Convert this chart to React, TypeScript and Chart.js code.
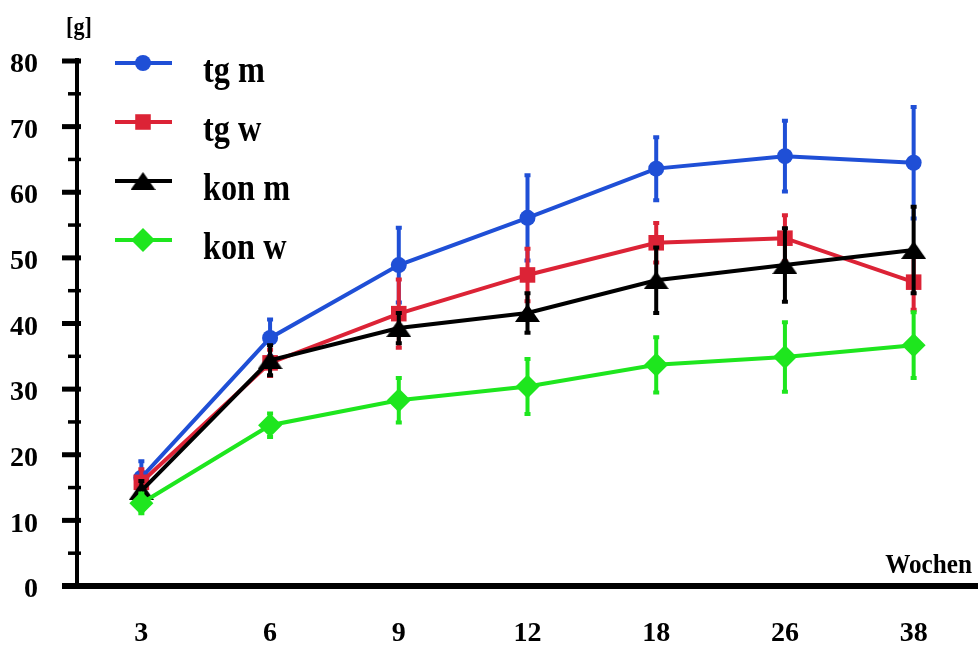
import React, { useEffect, useRef } from 'react';
import { Chart, registerables } from 'chart.js';

Chart.register(...registerables);

const weeks = ['3', '6', '9', '12', '18', '26', '38'];

const tgM = [16.5, 37.8, 48.9, 56.1, 63.6, 65.5, 64.5];
const tgMErr = [2.5, 2.8, 5.7, 6.5, 4.8, 5.4, 8.5];

const tgW = [15.8, 34.0, 41.5, 47.4, 52.3, 53.0, 46.3];
const tgWErr = [2.0, 2.0, 5.2, 4.0, 3.0, 3.5, 4.2];

const konM = [14.5, 34.4, 39.3, 41.6, 46.6, 48.9, 51.2];
const konMErr = [1.5, 2.3, 2.3, 3.0, 5.0, 5.6, 6.6];

const konW = [12.6, 24.5, 28.3, 30.4, 33.7, 34.9, 36.7];
const konWErr = [1.5, 1.8, 3.4, 4.2, 4.2, 5.3, 5.0];

const seriesNames = ['tg m', 'tg w', 'kon m', 'kon w'];
const seriesValues = [tgM, tgW, konM, konW];
const seriesErrors = [tgMErr, tgWErr, konMErr, konWErr];
const colors = ['#1f4fd6', '#dc2336', '#000000', '#1ee61e'];
const pointStyles = ['circle', 'rect', 'flatTriangle', 'rectRot'];
const pointRadii = [8, 11, 10.5, 12];

const yMin = 0;
const yMax = 80;
const yStep = 5;
const yUnit = '[g]';
const xTitle = 'Wochen';

const FONT = "'Liberation Serif', 'Times New Roman', serif";

function makeTriangle(color: string, w: number, h: number) {
  const c = document.createElement('canvas');
  c.width = w;
  c.height = h;
  const g = c.getContext('2d');
  if (g) {
    g.fillStyle = color;
    g.beginPath();
    g.moveTo(w / 2, 0);
    g.lineTo(w, h);
    g.lineTo(0, h);
    g.closePath();
    g.fill();
  }
  return c;
}

function drawMarker(ctx: CanvasRenderingContext2D, style: any, x: number, y: number, r: number) {
  if (typeof style !== 'string') {
    ctx.drawImage(style, x - style.width / 2, y - style.height / 2);
    return;
  }
  ctx.beginPath();
  if (style === 'circle') {
    ctx.arc(x, y, r, 0, Math.PI * 2);
  } else if (style === 'rect') {
    const s = Math.SQRT1_2 * r;
    ctx.rect(x - s, y - s, 2 * s, 2 * s);
  } else {
    ctx.moveTo(x - r, y);
    ctx.lineTo(x, y - r);
    ctx.lineTo(x + r, y);
    ctx.lineTo(x, y + r);
    ctx.closePath();
  }
  ctx.fill();
}

function condensedText(ctx: CanvasRenderingContext2D, text: string, x: number, y: number, sx: number) {
  ctx.save();
  ctx.translate(x, y);
  ctx.scale(sx, 1);
  ctx.fillText(text, 0, 0);
  ctx.restore();
}

function makeDecorPlugin(styles: any[]) {
  return {
    id: 'decor',
    beforeDatasetDraw(chart: any, args: any) {
      const i = args.index;
      const meta = args.meta;
      const ys = chart.scales.y;
      const ctx: CanvasRenderingContext2D = chart.ctx;
      const vals = seriesValues[i];
      const errs = seriesErrors[i];
      ctx.save();
      ctx.strokeStyle = colors[i];
      ctx.lineWidth = 4;
      ctx.lineCap = 'butt';
      meta.data.forEach((pt: any, k: number) => {
        const x = pt.x;
        const top = ys.getPixelForValue(vals[k] + errs[k]);
        const bot = ys.getPixelForValue(vals[k] - errs[k]);
        ctx.beginPath();
        ctx.moveTo(x, top);
        ctx.lineTo(x, bot);
        ctx.moveTo(x - 3, top);
        ctx.lineTo(x + 3, top);
        ctx.moveTo(x - 3, bot);
        ctx.lineTo(x + 3, bot);
        ctx.stroke();
      });
      ctx.restore();
    },
    afterDraw(chart: any) {
      const ctx: CanvasRenderingContext2D = chart.ctx;
      const ys = chart.scales.y;
      const area = chart.chartArea;
      const axisX = area.left;
      const axisY = area.bottom;
      ctx.save();
      ctx.fillStyle = '#000';
      // y axis line
      ctx.fillRect(axisX - 2, ys.getPixelForValue(yMax) - 3, 4, axisY - ys.getPixelForValue(yMax) + 3);
      // y ticks
      ys.ticks.forEach((t: any) => {
        const py = ys.getPixelForValue(t.value);
        const major = t.value % 10 === 0;
        const len = major ? 15 : 9;
        const th = major ? 5 : 3.5;
        ctx.fillRect(axisX - len, py - th / 2, len + 4, th);
      });
      // x axis line
      ctx.fillRect(axisX - 15, axisY - 3, chart.width - (axisX - 15), 6);
      // unit label
      ctx.font = `bold 26px ${FONT}`;
      ctx.textAlign = 'center';
      ctx.textBaseline = 'alphabetic';
      condensedText(ctx, yUnit, axisX + 2, 35, 0.85);
      // x title
      ctx.font = `bold 28px ${FONT}`;
      ctx.textAlign = 'right';
      condensedText(ctx, xTitle, chart.width - 6, axisY - 13, 0.9);
      // legend
      const legendY = [63, 122, 181, 240];
      seriesNames.forEach((name, i) => {
        const ly = legendY[i];
        ctx.strokeStyle = colors[i];
        ctx.fillStyle = colors[i];
        ctx.lineWidth = 4;
        ctx.beginPath();
        ctx.moveTo(115, ly);
        ctx.lineTo(172, ly);
        ctx.stroke();
        drawMarker(ctx, styles[i], 143, ly, pointRadii[i]);
        ctx.fillStyle = '#000';
        ctx.font = `bold 38px ${FONT}`;
        ctx.textAlign = 'left';
        condensedText(ctx, name, 203, ly + 19, 0.85);
      });
      ctx.restore();
    },
  };
}

export default function App() {
  const canvasRef = useRef<HTMLCanvasElement | null>(null);

  useEffect(() => {
    const canvas = canvasRef.current;
    if (!canvas) return;
    const styles: any[] = pointStyles.map((s, i) =>
      s === 'flatTriangle' ? makeTriangle(colors[i], 25, 18) : s
    );
    const datasets = seriesNames.map((name, i) => ({
      label: name,
      data: seriesValues[i],
      borderColor: colors[i],
      backgroundColor: colors[i],
      borderWidth: 4,
      pointStyle: styles[i],
      pointRadius: pointRadii[i],
      pointBorderWidth: 0,
      pointBackgroundColor: colors[i],
      tension: 0,
      fill: false,
      clip: false,
      order: 4 - i,
    }));
    const chart = new Chart(canvas, {
      type: 'line',
      data: { labels: weeks, datasets },
      plugins: [makeDecorPlugin(styles)],
      options: {
        responsive: false,
        animation: false,
        layout: { autoPadding: false, padding: { top: 61, right: 0, left: 0, bottom: 0 } },
        plugins: {
          legend: { display: false },
          tooltip: { enabled: false },
        },
        scales: {
          x: {
            type: 'category',
            offset: true,
            grid: { display: false, drawTicks: false },
            border: { display: false },
            ticks: {
              color: '#000',
              font: { family: FONT, weight: 'bold', size: 28 },
              padding: 31,
              maxRotation: 0,
            },
            afterFit: (s: any) => {
              s.height = 64;
              s.paddingLeft = 0;
              s.paddingRight = 0;
            },
          },
          y: {
            min: yMin,
            max: yMax,
            grid: {
              display: true,
              drawOnChartArea: false,
              drawTicks: true,
              tickLength: 15,
              tickColor: 'rgba(0,0,0,0)',
            },
            border: { display: false },
            ticks: {
              stepSize: yStep,
              autoSkip: false,
              color: '#000',
              font: { family: FONT, weight: 'bold', size: 28 },
              padding: 24,
              labelOffset: 4,
              callback: (v: any) => (Number(v) % 10 === 0 ? String(v) : ''),
            },
            afterFit: (s: any) => {
              s.width = 77;
            },
          },
        },
      } as any,
    });
    return () => chart.destroy();
  }, []);

  return (
    <div style={{ position: 'fixed', left: 0, top: 0, width: 978, height: 650, background: '#fff' }}>
      <canvas ref={canvasRef} width={978} height={650} style={{ display: 'block' }} />
    </div>
  );
}
